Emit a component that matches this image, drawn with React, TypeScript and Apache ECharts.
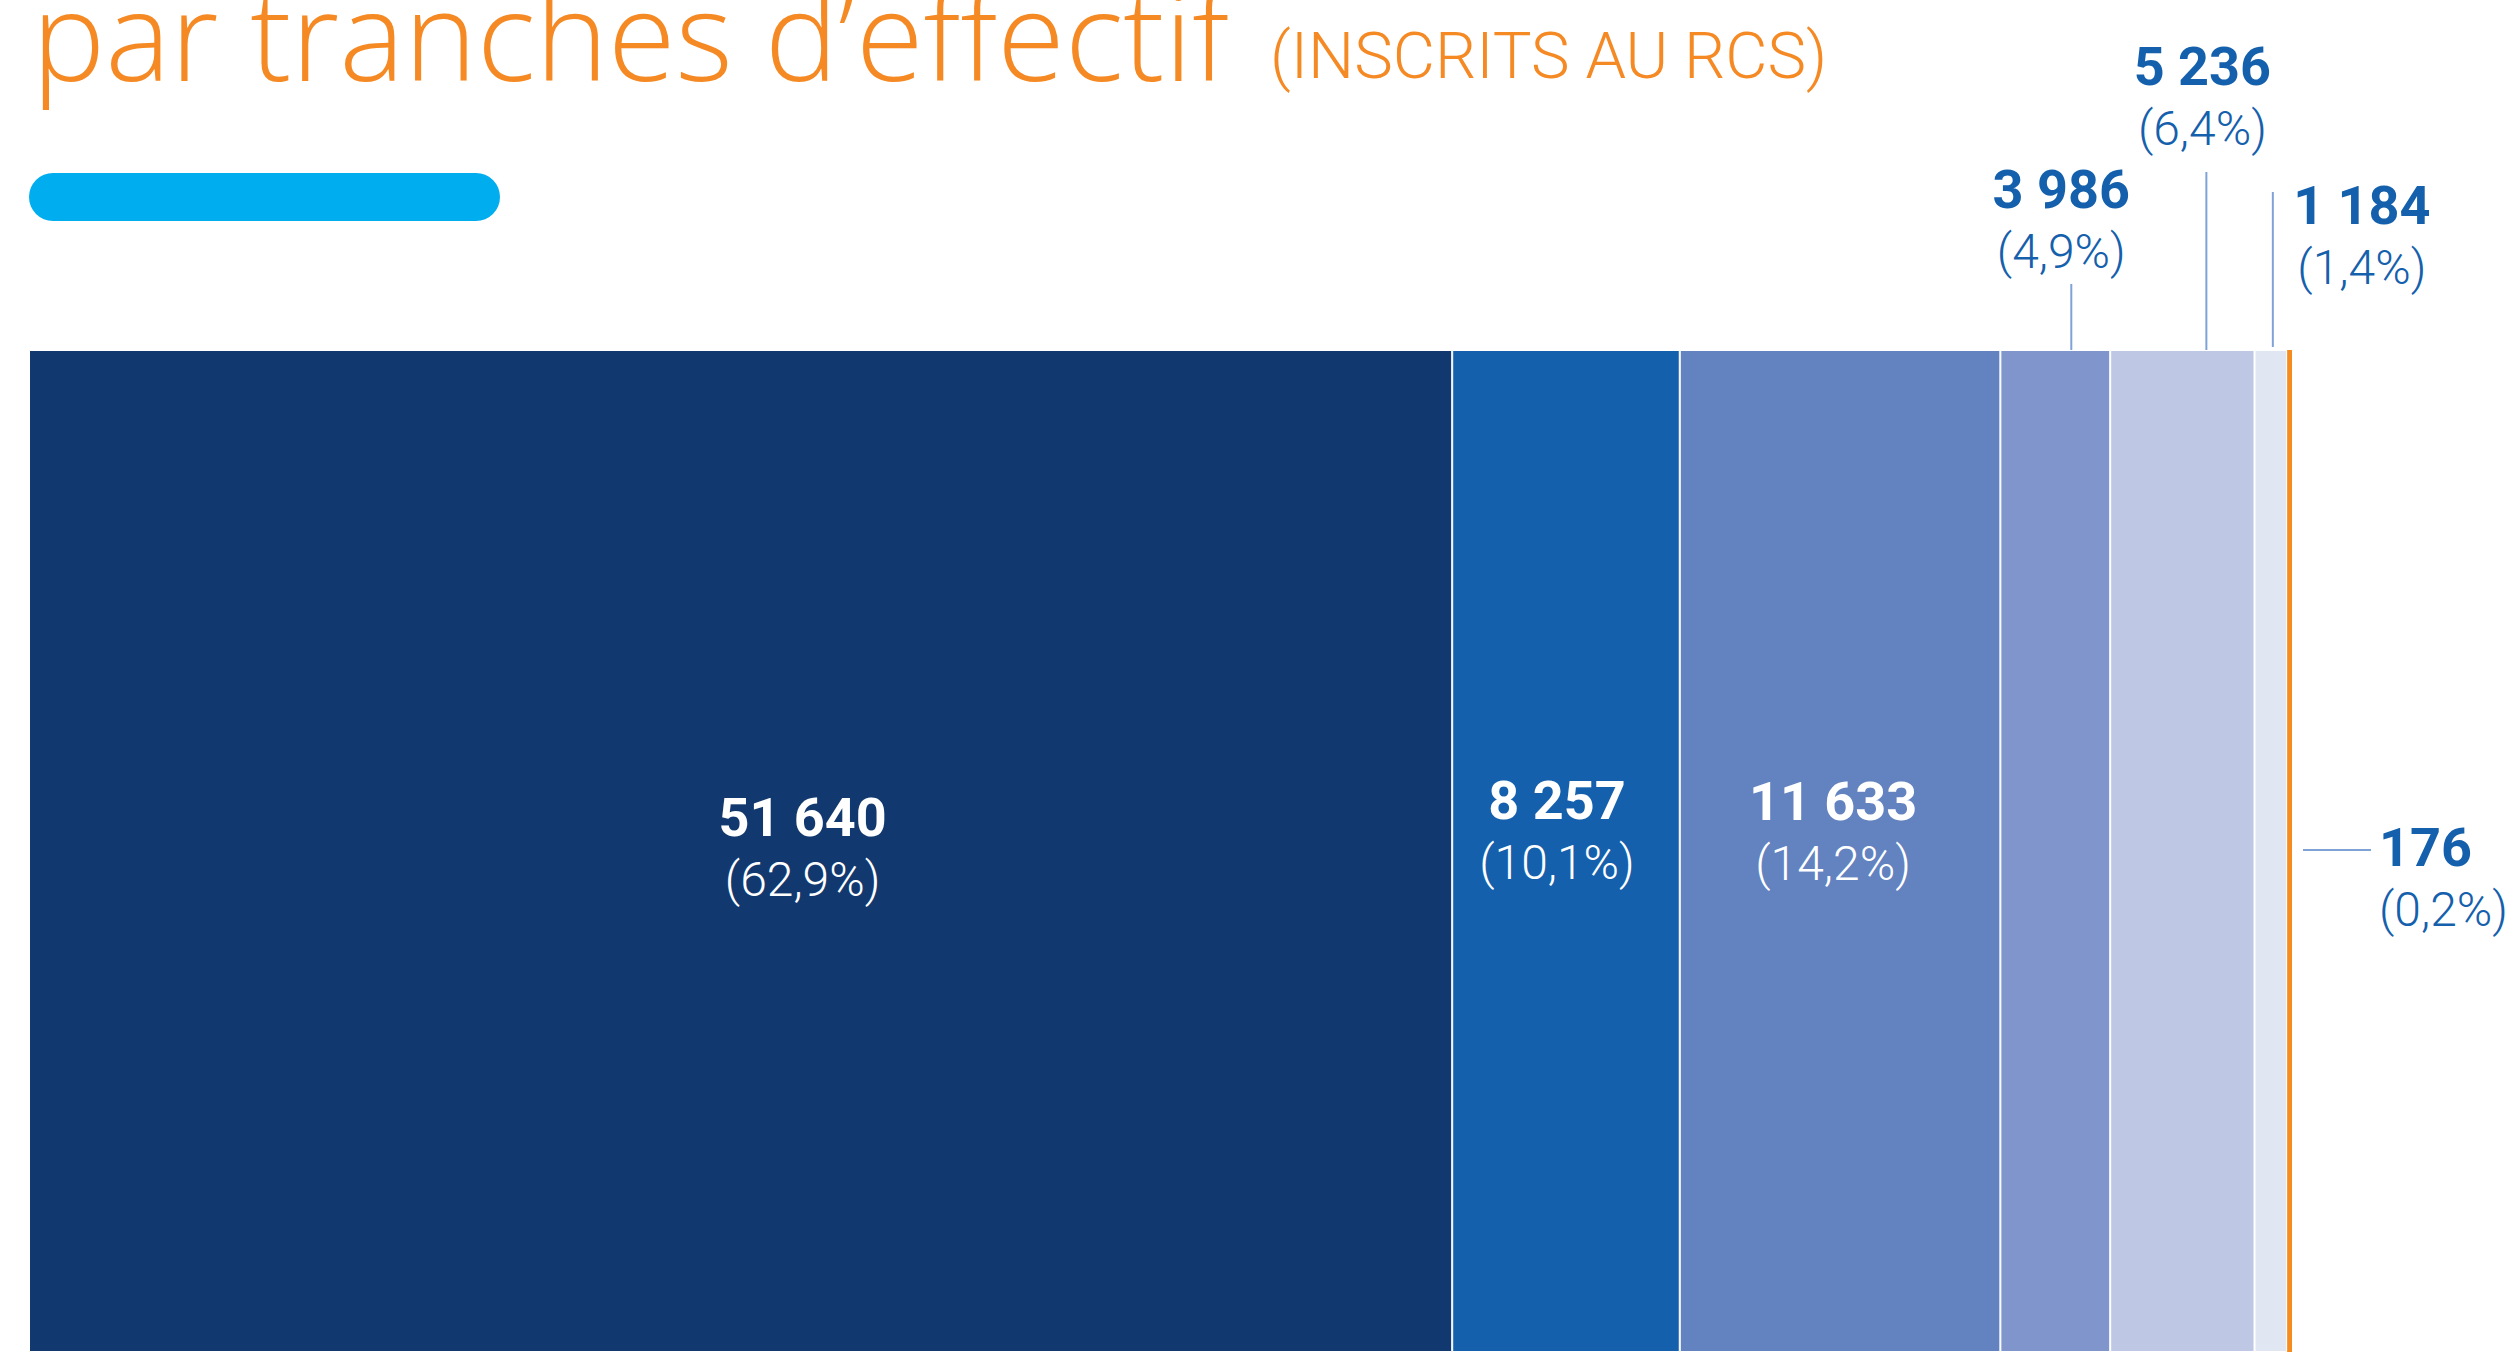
import React, { useEffect, useRef } from "react";
import * as echarts from "echarts";

// ---- Data ----
const categories = ["Entreprises"];
const trancheNames = ["Tranche 1", "Tranche 2", "Tranche 3", "Tranche 4", "Tranche 5", "Tranche 6", "Tranche 7"];
const values = [51640, 8257, 11633, 3986, 5236, 1184, 176];
const shares = ["62,9", "10,1", "14,2", "4,9", "6,4", "1,4", "0,2"];
const titleText = "par tranches d\u2019effectif";
const subtitleText = "(INSCRITS AU RCS)";

// ---- Styles ----
const colors = ["#12396F", "#1560AC", "#6282C0", "#7F95CB", "#BEC7E3", "#E0E6F2", "#F68B1F"];
const ORANGE = "#F58A25";
const LABEL_BLUE = "#1560AC";
const LEADER = "#7FA3D6";
const FONT = "Roboto";
const TITLE_FONT = "Open Sans";
const GRID_LEFT = 29;
const GRID_RIGHT = 223;
const GRID_TOP = 350;

const fmt = (v: number) => String(v).replace(/\B(?=(\d{3})+(?!\d))/g, " ");

type LabelCfg = { position: any; offset: [number, number]; align: string; color: string };
const labelCfgs: LabelCfg[] = [
  { position: ["50%", "50%"], offset: [62, -3], align: "center", color: "#ffffff" },
  { position: ["50%", "50%"], offset: [-9, -20], align: "center", color: "#ffffff" },
  { position: ["50%", "50%"], offset: [-7, -19], align: "center", color: "#ffffff" },
  { position: ["50%", -130], offset: [6, 0], align: "center", color: LABEL_BLUE },
  { position: ["50%", -253], offset: [20, 0], align: "center", color: LABEL_BLUE },
  { position: ["50%", -114], offset: [91, 0], align: "center", color: LABEL_BLUE },
  { position: ["100%", "50%"], offset: [87, 27], align: "left", color: LABEL_BLUE },
];

export default function App() {
  const ref = useRef<HTMLDivElement>(null);

  useEffect(() => {
    if (!ref.current) return;
    document.body.style.margin = "0";
    const chart = echarts.init(ref.current, undefined, { renderer: "svg" });
    const total = values.reduce((a, b) => a + b, 0);
    const last = values.length - 1;

    const series = values.map((v, i) => {
      const cfg = labelCfgs[i];
      return {
        name: trancheNames[i],
        type: "bar",
        stack: "total",
        barWidth: "100%",
        data: [v],
        itemStyle: {
          color: colors[i],
          borderColor: "#ffffff",
          borderWidth: i === last ? 0 : 1,
        },
        label: {
          show: true,
          position: cfg.position,
          offset: cfg.offset,
          align: cfg.align,
          verticalAlign: "middle",
          formatter: `{n|${fmt(v)}}\n{p|(${shares[i]}%)}`,
          rich: {
            n: {
              fontFamily: FONT,
              fontWeight: "bold",
              fontSize: 54,
              lineHeight: 62,
              color: cfg.color,
              align: cfg.align,
            },
            p: {
              fontFamily: FONT,
              fontWeight: 300,
              fontSize: 48,
              lineHeight: 62,
              color: cfg.color,
              align: cfg.align,
            },
          },
        },
        emphasis: { disabled: true },
      };
    });

    chart.setOption({
      animation: false,
      grid: { left: GRID_LEFT, right: GRID_RIGHT, top: GRID_TOP, bottom: 0 },
      xAxis: { type: "value", min: 0, max: total, show: false },
      yAxis: { type: "category", data: categories, show: false },
      series,
      graphic: [
        {
          type: "text",
          x: 32,
          y: 33,
          style: {
            text: titleText,
            fontFamily: TITLE_FONT,
            fontWeight: 300,
            fontSize: 123,
            fill: ORANGE,
            verticalAlign: "middle",
            align: "left",
          },
        },
        {
          type: "text",
          x: 1270,
          y: 56,
          style: {
            text: subtitleText,
            fontFamily: FONT,
            fontWeight: 300,
            fontSize: 65,
            fill: ORANGE,
            verticalAlign: "middle",
            align: "left",
          },
        },
        {
          type: "rect",
          shape: { x: 29, y: 173, width: 471, height: 48, r: 24 },
          style: { fill: "#00AEEF" },
        },
      ],
    });

    const cum: number[] = [];
    values.reduce((acc, v, i) => {
      cum[i] = acc;
      return acc + v;
    }, 0);
    const px = (val: number) => chart.convertToPixel({ xAxisIndex: 0 }, val) as number;
    const mid = (i: number) => px(cum[i] + values[i] / 2);
    const lines: any[] = [
      { x: mid(3) + 16, y1: 284, y2: GRID_TOP },
      { x: mid(4) + 24, y1: 172, y2: GRID_TOP },
      { x: mid(5) + 2, y1: 192, y2: GRID_TOP - 3 },
    ].map((l) => ({
      type: "line",
      shape: { x1: l.x, y1: l.y1, x2: l.x, y2: l.y2 },
      style: { stroke: LEADER, lineWidth: 2 },
    }));
    const endX = px(total);
    lines.push({
      type: "line",
      shape: { x1: endX + 11, y1: 850, x2: endX + 79, y2: 850 },
      style: { stroke: LEADER, lineWidth: 2 },
    });
    const current = (chart.getOption() as any).graphic?.[0]?.elements || [];
    chart.setOption({ graphic: [...current.map((e: any) => ({ id: e.id })), ...lines] });

    return () => chart.dispose();
  }, []);

  return (
    <div
      ref={ref}
      style={{ position: "absolute", left: 0, top: 0, width: 2515, height: 1352, background: "#ffffff" }}
    />
  );
}
